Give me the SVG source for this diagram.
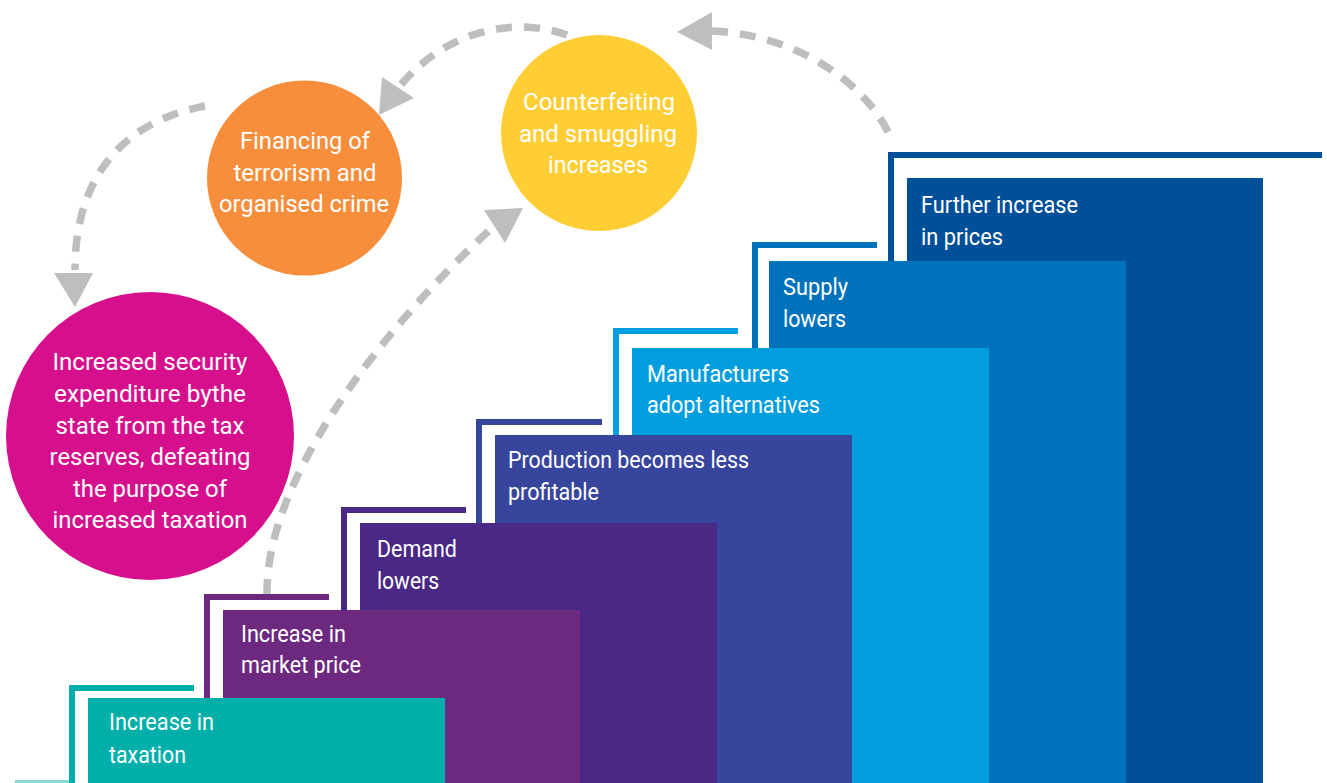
<svg xmlns="http://www.w3.org/2000/svg" width="1327" height="783" viewBox="0 0 1327 783">
<style>
  .lbl { font-family: "Liberation Sans Narrow", "Roboto", "Liberation Sans", sans-serif; font-size: 23px; fill: #ffffff; }
  .c { text-anchor: middle; }
  .dash { fill: none; stroke: #BCBEC0; stroke-width: 7.5; stroke-dasharray: 16 12; }
  .head { fill: #BCBEC0; }
</style>
<rect width="1327" height="783" fill="#ffffff"/>

<g id="connectors">
  <path class="dash" d="M 205 106 C 130 120 75 170 75 270"/>
  <polygon class="head" points="54,273 93,273 75,307"/>
  <path class="dash" d="M 567 35 C 520 18 450 25 398 88"/>
  <polygon class="head" points="382,77 414,98 379,115"/>
  <path class="dash" d="M 267 595 C 265 480 380 330 494 226"/>
  <polygon class="head" points="484,210 505,243 523,208"/>
  <path class="dash" d="M 888 132 C 865 85 800 35 712 31"/>
  <polygon class="head" points="712,12 712,50 677,32"/>
</g>

<g id="node-security">
  <circle cx="150" cy="436" r="144" fill="#D6108C"/>
  <text class="lbl c" x="150" y="370" textLength="195" lengthAdjust="spacingAndGlyphs">Increased security</text>
  <text class="lbl c" x="150" y="402" textLength="192" lengthAdjust="spacingAndGlyphs">expenditure bythe</text>
  <text class="lbl c" x="150" y="434" textLength="189" lengthAdjust="spacingAndGlyphs">state from the tax</text>
  <text class="lbl c" x="150" y="465" textLength="201" lengthAdjust="spacingAndGlyphs">reserves, defeating</text>
  <text class="lbl c" x="150" y="497" textLength="154" lengthAdjust="spacingAndGlyphs">the purpose of</text>
  <text class="lbl c" x="150" y="528" textLength="195" lengthAdjust="spacingAndGlyphs">increased taxation</text>
</g>

<g id="node-financing">
  <circle cx="304.5" cy="178" r="97.5" fill="#F68E3B"/>
  <text class="lbl c" x="305" y="149" textLength="130" lengthAdjust="spacingAndGlyphs">Financing of</text>
  <text class="lbl c" x="305" y="181" textLength="143" lengthAdjust="spacingAndGlyphs">terrorism and</text>
  <text class="lbl c" x="304" y="212" textLength="170" lengthAdjust="spacingAndGlyphs">organised crime</text>
</g>

<g id="node-counterfeiting">
  <circle cx="599" cy="133" r="98" fill="#FFCD34"/>
  <text class="lbl c" x="599" y="110" textLength="152" lengthAdjust="spacingAndGlyphs">Counterfeiting</text>
  <text class="lbl c" x="598" y="142" textLength="158" lengthAdjust="spacingAndGlyphs">and smuggling</text>
  <text class="lbl c" x="598" y="173" textLength="100" lengthAdjust="spacingAndGlyphs">increases</text>
</g>

<g id="step-7">
  <rect x="888" y="152" width="6" height="631" fill="#004F99"/>
  <rect x="888" y="152" width="434" height="6" fill="#004F99"/>
  <rect x="907" y="178" width="356" height="605" fill="#004F99"/>
  <text class="lbl" x="921" y="213" textLength="157" lengthAdjust="spacingAndGlyphs">Further increase</text>
  <text class="lbl" x="921" y="245" textLength="82" lengthAdjust="spacingAndGlyphs">in prices</text>
</g>

<g id="step-6">
  <rect x="752" y="242" width="6" height="541" fill="#0072BB"/>
  <rect x="752" y="242" width="125" height="6" fill="#0072BB"/>
  <rect x="769" y="261" width="357" height="522" fill="#0072BB"/>
  <text class="lbl" x="783" y="295" textLength="65" lengthAdjust="spacingAndGlyphs">Supply</text>
  <text class="lbl" x="783" y="327" textLength="63" lengthAdjust="spacingAndGlyphs">lowers</text>
</g>

<g id="step-5">
  <rect x="613" y="328" width="6" height="455" fill="#009EDF"/>
  <rect x="613" y="328" width="125" height="6" fill="#009EDF"/>
  <rect x="632" y="348" width="357" height="435" fill="#009EDF"/>
  <text class="lbl" x="647" y="382" textLength="142" lengthAdjust="spacingAndGlyphs">Manufacturers</text>
  <text class="lbl" x="647" y="413" textLength="173" lengthAdjust="spacingAndGlyphs">adopt alternatives</text>
</g>

<g id="step-4">
  <rect x="476" y="419" width="6" height="364" fill="#38459C"/>
  <rect x="476" y="419" width="126" height="6" fill="#38459C"/>
  <rect x="495" y="435" width="357" height="348" fill="#38459C"/>
  <text class="lbl" x="508" y="468" textLength="241" lengthAdjust="spacingAndGlyphs">Production becomes less</text>
  <text class="lbl" x="508" y="500" textLength="91" lengthAdjust="spacingAndGlyphs">profitable</text>
</g>

<g id="step-3">
  <rect x="341" y="507" width="6" height="276" fill="#4A2885"/>
  <rect x="341" y="507" width="125" height="6" fill="#4A2885"/>
  <rect x="360" y="523" width="357" height="260" fill="#4A2885"/>
  <text class="lbl" x="377" y="557" textLength="80" lengthAdjust="spacingAndGlyphs">Demand</text>
  <text class="lbl" x="377" y="589" textLength="62" lengthAdjust="spacingAndGlyphs">lowers</text>
</g>

<g id="step-2">
  <rect x="204" y="594" width="6" height="189" fill="#6D2880"/>
  <rect x="204" y="594" width="125" height="6" fill="#6D2880"/>
  <rect x="223" y="610" width="357" height="173" fill="#6D2880"/>
  <text class="lbl" x="241" y="642" textLength="105" lengthAdjust="spacingAndGlyphs">Increase in</text>
  <text class="lbl" x="241" y="673" textLength="120" lengthAdjust="spacingAndGlyphs">market price</text>
</g>

<g id="step-1">
  <rect x="15" y="780" width="54" height="3" fill="#8AD9D6"/>
  <rect x="69" y="685" width="6" height="98" fill="#00AFA9"/>
  <rect x="69" y="685" width="125" height="6" fill="#00AFA9"/>
  <rect x="88" y="698" width="357" height="85" fill="#00AFA9"/>
  <text class="lbl" x="109" y="730" textLength="105" lengthAdjust="spacingAndGlyphs">Increase in</text>
  <text class="lbl" x="109" y="763" textLength="77" lengthAdjust="spacingAndGlyphs">taxation</text>
</g>
</svg>
